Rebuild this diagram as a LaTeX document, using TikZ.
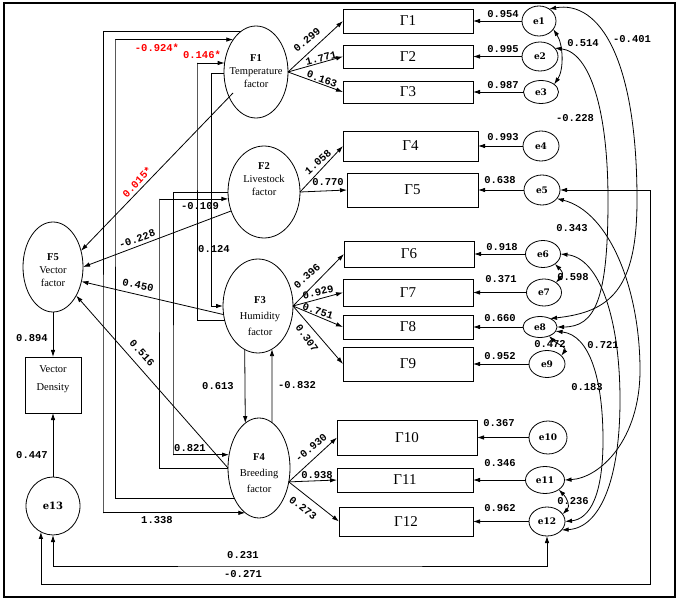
\documentclass[tikz,border=0pt]{standalone}
\usepackage{fontspec}
\setmainfont{Liberation Serif}
\setmonofont{Liberation Mono}
\newfontfamily\efont{DejaVu Serif}
\usetikzlibrary{arrows.meta,shapes.geometric,calc}
\begin{document}
\begin{tikzpicture}[x=1pt,y=-1pt,line width=0.8pt,
  arr/.style={-{Latex[length=7pt,width=4.5pt]}},
  biarr/.style={{Latex[length=7pt,width=4.5pt]}-{Latex[length=7pt,width=4.5pt]}},
  fac/.style={ellipse,draw,inner sep=0pt,outer sep=0pt},
  ftext/.style={align=center,inner sep=0pt,font=\fontsize{10.5}{13}\selectfont},
  gbox/.style={rectangle,draw,inner sep=0pt,outer sep=0pt,font=\fontsize{15}{15}\selectfont},
  err/.style={ellipse,draw,inner sep=0pt,outer sep=0pt,font=\efont\bfseries\fontsize{9}{9}\selectfont},
  num/.style={inner sep=0pt,font=\ttfamily\bfseries\fontsize{10.5}{10.5}\selectfont},
  rnum/.style={num,text=red}
]
\useasboundingbox (0,0) rectangle (680,601);
\draw[line width=1.2pt] (4,3) rectangle (675,597);

% factor ellipses
\node[fac,minimum width=64pt,minimum height=92pt] (F1) at (256,72) {};
\node[ftext] (F1t) at (256,71) {\textbf{F1}\\Temperature\\factor};
\node[fac,minimum width=72pt,minimum height=92pt] (F2) at (264,192) {};
\node[ftext] (F2t) at (264,179) {\textbf{F2}\\Livestock\\factor};
\node[fac,minimum width=70pt,minimum height=94pt] (F3) at (258,306) {};
\node[ftext,font=\fontsize{10.5}{16}\selectfont] (F3t) at (260,316) {\textbf{F3}\\Humidity\\factor};
\node[fac,minimum width=62pt,minimum height=100pt] (F4) at (259,468) {};
\node[ftext,font=\fontsize{10.5}{16}\selectfont] (F4t) at (259,473) {\textbf{F4}\\Breeding\\factor};
\node[fac,minimum width=60pt,minimum height=90pt] (F5) at (53,267) {};
\node[ftext] (F5t) at (53,270) {\textbf{F5}\\Vector\\factor};

% vector density and e13
\node[draw,inner sep=0pt,outer sep=0pt,minimum width=56pt,minimum height=56pt] (VD) at (53,385) {};
\node[ftext,font=\fontsize{10.5}{18}\selectfont] (VDt) at (53,379) {Vector\\Density};
\node[err,minimum width=54pt,minimum height=58pt,font=\efont\bfseries\fontsize{10}{10}\selectfont] (e13) at (53,506) {e13};

% Gamma boxes
\node[gbox,minimum width=130pt,minimum height=24pt] (G1) at (408,21) {Γ1};
\node[gbox,minimum width=130pt,minimum height=23pt] (G2) at (408,56.5) {Γ2};
\node[gbox,minimum width=130pt,minimum height=22pt] (G3) at (408,92) {Γ3};
\node[gbox,minimum width=135pt,minimum height=30pt] (G4) at (410.5,146) {Γ4};
\node[gbox,minimum width=131pt,minimum height=34pt] (G5) at (412.5,190) {Γ5};
\node[gbox,minimum width=130pt,minimum height=26pt] (G6) at (409,254) {Γ6};
\node[gbox,minimum width=130pt,minimum height=27pt] (G7) at (408,292.5) {Γ7};
\node[gbox,minimum width=130pt,minimum height=24pt] (G8) at (408,327) {Γ8};
\node[gbox,minimum width=130pt,minimum height=34pt] (G9) at (408,364) {Γ9};
\node[gbox,minimum width=140pt,minimum height=35pt] (G10) at (407,437.5) {Γ10};
\node[gbox,minimum width=136pt,minimum height=24pt] (G11) at (405,480) {Γ11};
\node[gbox,minimum width=134pt,minimum height=29pt] (G12) at (406,521.5) {Γ12};

% error ellipses
\node[err,minimum width=34pt,minimum height=30pt] (e1) at (539,21) {e1};
\node[err,minimum width=36pt,minimum height=29pt] (e2) at (540,56.5) {e2};
\node[err,minimum width=35pt,minimum height=23pt] (e3) at (541,92) {e3};
\node[err,minimum width=36pt,minimum height=30pt] (e4) at (541,146) {e4};
\node[err,minimum width=36pt,minimum height=30pt] (e5) at (542,190) {e5};
\node[err,minimum width=35pt,minimum height=27pt] (e6) at (543,254) {e6};
\node[err,minimum width=35pt,minimum height=27pt] (e7) at (544,292.5) {e7};
\node[err,minimum width=34pt,minimum height=21pt] (e8) at (540,327) {e8};
\node[err,minimum width=36pt,minimum height=27pt] (e9) at (547,364) {e9};
\node[err,minimum width=38pt,minimum height=33pt] (e10) at (548,437.5) {e10};
\node[err,minimum width=39pt,minimum height=27pt] (e11) at (545,480) {e11};
\node[err,minimum width=36pt,minimum height=29pt] (e12) at (547,521.5) {e12};

% factor -> indicators
\draw[arr] (F1.east) -- (G1.west);
\draw[arr] (F1.east) -- (G2.west);
\draw[arr] (F1.east) -- (G3.west);
\draw[arr] (F2.east) -- (G4.west);
\draw[arr] (F2.east) -- (G5.west);
\draw[arr] (F3.east) -- (G6.west);
\draw[arr] (F3.east) -- (G7.west);
\draw[arr] (F3.east) -- (G8.west);
\draw[arr] (F3.east) -- (G9.west);
\draw[arr] (F4.-25) -- (G10.west);
\draw[arr] (F4.-25) -- (G11.west);
\draw[arr] (F4.-25) -- (G12.west);
\node[num,rotate=40] (l299) at (307,40) {0.299};
\node[num,rotate=14] (l1771) at (321,58) {1.771};
\node[num,rotate=-20] (l163) at (322,79) {0.163};
\node[num,rotate=42] (l1058) at (318,162) {1.058};
\node[num] (l770) at (328,182) {0.770};
\node[num,rotate=42] (l396) at (307,276) {0.396};
\node[num,rotate=14] (l929) at (318,292) {0.929};
\node[num,rotate=-18] (l751) at (318,311) {0.751};
\node[num,rotate=-55] (l307) at (307,338) {0.307};
\node[num,rotate=40] (l930) at (311,448) {-0.930};
\node[num] (l938) at (317,475) {0.938};
\node[num,rotate=-38] (l273) at (303,508) {0.273};

% errors -> indicators
\foreach \i in {1,...,12} {\draw[arr] (e\i.west) -- (G\i.east);}
\node[num] (n1) at (503,14) {0.954};
\node[num] (n2) at (503,49) {0.995};
\node[num] (n3) at (503,85) {0.987};
\node[num] (n4) at (503,137) {0.993};
\node[num] (n5) at (500,180) {0.638};
\node[num] (n6) at (502,247) {0.918};
\node[num] (n7) at (501,279) {0.371};
\node[num] (n8) at (500,318) {0.660};
\node[num] (n9) at (500,356) {0.952};
\node[num] (n10) at (499,423) {0.367};
\node[num] (n11) at (500,463) {0.346};
\node[num] (n12) at (500,508) {0.962};

% factors -> F5
\draw[arr] ($(F1)+(-23,21)$) -- (F5.30);
\draw[arr] (F2.210) -- (F5.0);
\draw[arr] (F3.194) -- (F5.-27);
\draw[arr] (F4.180) -- (F5.-51);
\node[rnum,rotate=47] (l015) at (137,182) {0.015*};
\node[num,rotate=20] (l228a) at (137,239) {-0.228};
\node[num,rotate=-12] (l450) at (138,285) {0.450};
\node[num,rotate=-48] (l516) at (142,353) {0.516};

\draw[arr] (F5.south) -- (VD.north);
\draw[arr] (e13.north) -- (VD.south);
\node[num] (l894) at (32,338) {0.894};
\node[num] (l447) at (32,455) {0.447};

% orthogonal factor paths
\coordinate (xA) at (103,513);
\coordinate (xB) at (115,40);
\coordinate (xC) at (197,63);
\coordinate (xD) at (211,306);
\coordinate (xE) at (159,199);
\coordinate (xF) at (173,455);
\draw[arr] (F1.111.6) -| (xA) |- (F4.253.3);
\draw[arr] (F4.231.9) -| (xB) |- (F1.125.7);
\draw[arr] (F3.204.3) -| (xC) |- (F1.164);
\draw[arr] (F1.182) -| (xD) |- (F3.180);
\draw[arr] (F4.180) -| (xE) |- (F2.191.1);
\draw[arr] (F2.180) -| (xF) |- (F4.156.5);
\draw[arr] (F3.253.4) -- (F4.107.4);
\draw[arr] (F4.74) -- (F3.288);
\node[num] (l1338) at (157,520) {1.338};
\node[rnum] (l924) at (157,48) {-0.924*};
\node[rnum] (l146) at (202,55) {0.146*};
\node[num] (l124) at (214,249) {0.124};
\node[num] (l109) at (200,206) {-0.109};
\node[num] (l821) at (190,448) {0.821};
\node[num] (l613) at (218,386) {0.613};
\node[num] (l832) at (297,385) {-0.832};

% bottom covariances
\coordinate (c231) at (300,566);
\coordinate (c271) at (650,584);
\draw[biarr] (e13.south) |- (c231) -| (e12.south);
\draw[biarr] (e13.245.2) |- (c271) |- (e5.east);
\node[num] (l231) at (243,555) {0.231};
\node[num] (l271) at (243,574) {-0.271};

% right covariances
\draw[biarr] (e1.-30) .. controls +(10,15) and +(10,-15) .. (e3.30);
\draw[biarr] (e1.50) .. controls (600,0) and (637,60) .. (637,200) .. controls (637,290) and (610,312) .. (e8.40);
\draw[biarr] (e2.30) .. controls (590,52) and (608,110) .. (608,200) .. controls (608,300) and (595,327) .. (e8.east);
\draw[biarr] (e5.-30) .. controls (610,212) and (640,290) .. (640,370) .. controls (640,440) and (600,478) .. (e11.east);
\draw[biarr] (e6.east) .. controls (600,258) and (620,320) .. (620,400) .. controls (620,480) and (600,528) .. (e12.-30);
\draw[biarr] (e8.-15) .. controls (590,335) and (603,380) .. (603,440) .. controls (603,495) and (590,519) .. (e12.east);
\draw[biarr] (e6.-40) .. controls +(8,8) and +(8,-8) .. (e7.40);
\draw[biarr] (e8.-45) .. controls +(8,8) and +(6,-8) .. (e9.30);
\draw[biarr] (e11.-35) .. controls +(8,8) and +(8,-8) .. (e12.25);
\node[num] (c514) at (583,43) {0.514};
\node[num] (c401) at (632,39) {-0.401};
\node[num] (c228) at (575,118) {-0.228};
\node[num] (c343) at (572,228) {0.343};
\node[num] (c598) at (573,277) {0.598};
\node[num] (c472) at (550,344) {0.472};
\node[num] (c721) at (603,345) {0.721};
\node[num] (c183) at (587,387) {0.183};
\node[num] (c236) at (573,501) {0.236};
\end{tikzpicture}
\end{document}
